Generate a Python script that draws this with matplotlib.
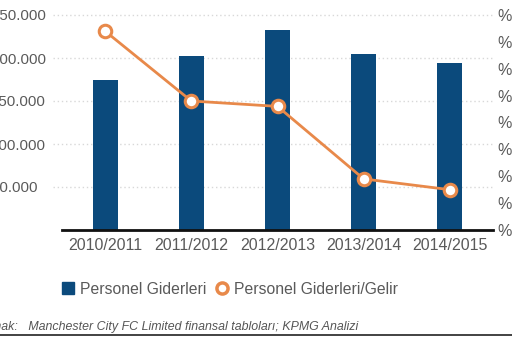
import matplotlib.pyplot as plt
from matplotlib.lines import Line2D
from matplotlib.patches import Patch

plt.rcParams['font.family'] = ['Liberation Sans', 'DejaVu Sans']

seasons = ['2010/2011', '2011/2012', '2012/2013', '2013/2014', '2014/2015']
personel = [174000, 202000, 233000, 205000, 194000]   # bin GBP
oran = [114, 88, 86, 59, 55]                           # personel giderleri / gelir, %

left_ticks = [0, 50000, 100000, 150000, 200000, 250000]
right_ticks = [40, 50, 60, 70, 80, 90, 100, 110, 120]

blue = '#0b4a7c'
orange = '#e8894a'
gray = '#5a5a5a'

fig = plt.figure(figsize=(5.12, 3.41), dpi=100)
ax = fig.add_axes([62 / 512, 111 / 341, 431 / 512, 215 / 341])
x = list(range(len(seasons)))

ax.bar(x, personel, width=0.29, color=blue, zorder=3)
ax.set_xlim(-0.5, 4.5)
ax.set_ylim(0, 250000)
ax.set_yticks(left_ticks)
ax.set_yticklabels([f'{v:,}'.replace(',', '.') for v in left_ticks])
for v in left_ticks[1:]:
    ax.axhline(v, xmin=-0.02, xmax=1, color='#d8d8d8', lw=1, ls=(0, (1, 2)), zorder=1, clip_on=False)
ax.set_xticks(x)
ax.set_xticklabels(seasons)
ax.tick_params(axis='x', length=0, labelsize=11.5, colors=gray, pad=6)
# left labels are left-aligned and start off the left edge of the picture
ax.tick_params(axis='y', length=0, labelsize=10.8, colors=gray, pad=51)
for lab in ax.get_yticklabels():
    lab.set_horizontalalignment('left')
for s in ['top', 'right', 'left']:
    ax.spines[s].set_visible(False)
ax.spines['bottom'].set_linewidth(2)
ax.spines['bottom'].set_color('#111111')
ax.spines['bottom'].set_zorder(5)

ax2 = ax.twinx()
ax2.plot(x, oran, color=orange, lw=2, marker='o', ms=9, mfc='white', mec=orange, mew=2.2, zorder=4)
ax2.set_ylim(40, 120)
ax2.set_yticks(right_ticks)
ax2.set_yticklabels([f'%{v}' for v in right_ticks])
ax2.tick_params(axis='y', length=0, labelsize=11.5, colors=gray, pad=3)
for s in ax2.spines.values():
    s.set_visible(False)

handles = [Patch(color=blue, label='Personel Giderleri'),
           Line2D([], [], ls='none', marker='o', ms=8, mfc='white', mec=orange, mew=2.5,
                  label='Personel Giderleri/Gelir')]
fig.legend(handles=handles, loc='center left', bbox_to_anchor=(62 / 512, 1 - 289 / 341),
           ncol=2, frameon=False, fontsize=11.3, labelcolor=gray, handlelength=0.75,
           handleheight=0.75, handletextpad=0.4, columnspacing=0.6, borderaxespad=0,
           borderpad=0)

fig.text(-27 / 512, 1 - 327 / 341, 'Kaynak:   Manchester City FC Limited finansal tabloları; KPMG Analizi',
         fontsize=8.9, style='italic', color='#555555', va='center', ha='left')
fig.add_artist(Line2D([0, 1], [1 - 335 / 341] * 2, color='#222222', lw=1.2))

fig.savefig('out.png', dpi=100)
